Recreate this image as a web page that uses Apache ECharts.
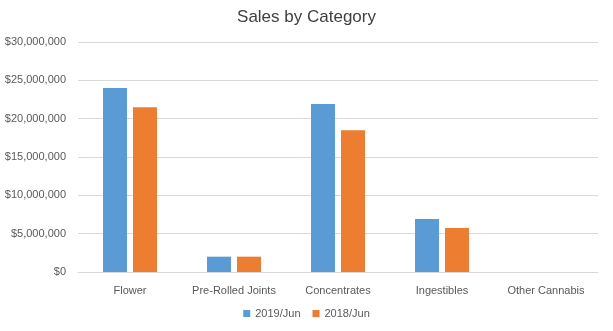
<!DOCTYPE html>
<html><head><meta charset="utf-8">
<script src="https://cdn.jsdelivr.net/npm/echarts@6/dist/echarts.min.js"></script>
<style>html,body{margin:0;padding:0;background:#fff}#c{width:613px;height:331px}</style>
</head><body><div id="c"></div>
<script>
const categories = ["Flower", "Pre-Rolled Joints", "Concentrates", "Ingestibles", "Other Cannabis"];
const sales2019 = [24000000, 2000000, 21900000, 6900000, 0];
const sales2018 = [21500000, 2000000, 18500000, 5750000, 0];
const seriesNames = ["2019/Jun", "2018/Jun"];
const font = "Liberation Sans";
const chart = echarts.init(document.getElementById('c'), null, {renderer: 'canvas'});
chart.setOption({
  animation: false,
  title: {text: "Sales by Category", left: 'center', top: 4,
    textStyle: {fontFamily: font, fontSize: 17, fontWeight: 'normal', color: '#404040'}},
  legend: {bottom: 7, itemWidth: 7, itemHeight: 7, itemGap: 12, icon: 'rect',
    textStyle: {fontFamily: font, fontSize: 11, color: '#595959'}},
  grid: {left: 78, right: 15, top: 42, bottom: 59},
  xAxis: {type: 'category', data: categories,
    axisLine: {lineStyle: {color: '#d9d9d9'}}, axisTick: {show: false},
    axisLabel: {interval: 0, fontFamily: font, fontSize: 11, color: '#595959', margin: 13}},
  yAxis: {type: 'value', min: 0, max: 30000000, interval: 5000000,
    axisLine: {show: false}, axisTick: {show: false},
    splitLine: {lineStyle: {color: '#d9d9d9'}},
    axisLabel: {fontFamily: font, fontSize: 11, color: '#595959', margin: 12,
      formatter: v => '$' + v.toLocaleString('en-US')}},
  series: [
    {name: seriesNames[0], type: 'bar', data: sales2019, barWidth: 24, barGap: '25%',
      itemStyle: {color: '#5b9bd5'}},
    {name: seriesNames[1], type: 'bar', data: sales2018, barWidth: 24,
      itemStyle: {color: '#ed7d31'}}
  ]
});
</script></body></html>
